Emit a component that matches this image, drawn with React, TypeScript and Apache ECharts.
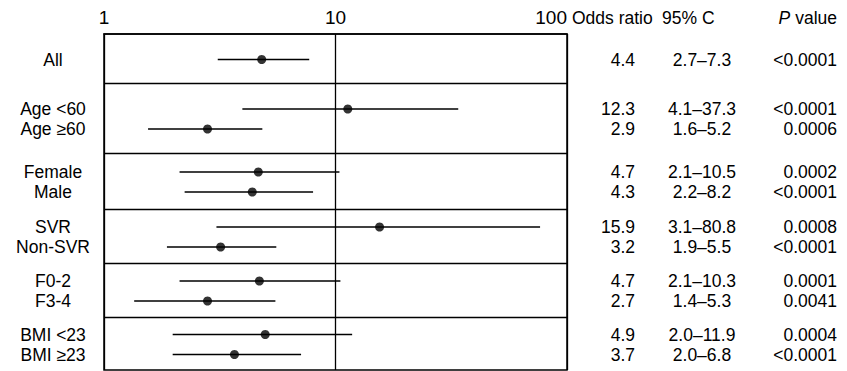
import React, { useEffect, useRef } from "react";
import * as echarts from "echarts";

// ---- data ----
const rowLabels = ["All", "Age <60", "Age ≥60", "Female", "Male", "SVR", "Non-SVR", "F0-2", "F3-4", "BMI <23", "BMI ≥23"];
const groupIndex = [0, 1, 1, 2, 2, 3, 3, 4, 4, 5, 5];
const orText = ["4.4", "12.3", "2.9", "4.7", "4.3", "15.9", "3.2", "4.7", "2.7", "4.9", "3.7"];
const ciText = ["2.7–7.3", "4.1–37.3", "1.6–5.2", "2.1–10.5", "2.2–8.2", "3.1–80.8", "1.9–5.5", "2.1–10.3", "1.4–5.3", "2.0–11.9", "2.0–6.8"];
const pText = ["<0.0001", "<0.0001", "0.0006", "0.0002", "<0.0001", "0.0008", "<0.0001", "0.0001", "0.0041", "0.0004", "<0.0001"];
// plotted estimates as drawn in the figure
const plotOR = [4.8, 11.3, 2.8, 4.64, 4.37, 15.5, 3.19, 4.69, 2.8, 4.97, 3.66];
const plotLow = [3.1, 3.96, 1.55, 2.12, 2.23, 3.06, 1.87, 2.12, 1.35, 1.98, 1.98];
const plotHigh = [7.7, 33.9, 4.83, 10.4, 8.0, 76.5, 5.55, 10.5, 5.5, 11.8, 7.1];
const xTicks = [1, 10, 100];
const headers = ["Odds ratio", "95% C", "P value"];

// ---- layout ----
const GROUP_H = [49, 70, 56, 54, 54, 53];
const ROW_PITCH = 20;
const PLOT_H = GROUP_H.reduce((a, b) => a + b, 0);
const groupTop: number[] = [];
GROUP_H.reduce((acc, h, i) => { groupTop[i] = acc; return acc + h; }, 0);
const rowY = groupIndex.map((g, i) => {
  const members = groupIndex.map((gg, j) => (gg === g ? j : -1)).filter((j) => j >= 0);
  const k = members.indexOf(i);
  return groupTop[g] + GROUP_H[g] / 2 + (k - (members.length - 1) / 2) * ROW_PITCH + 1;
});
const separators = groupTop.slice(1);

const FONT = "'Liberation Sans', Arial, Helvetica, sans-serif";
const TEXT_SIZE = 17.5;
const LABEL_X = 53;
const OR_X = 635;
const CI_X = 702;
const P_X = 837;

export default function App() {
  const ref = useRef<HTMLDivElement>(null);
  useEffect(() => {
    if (!ref.current) return;
    const chart = echarts.init(ref.current, undefined, { renderer: "svg" });
    const option: any = {
      animation: false,
      backgroundColor: "#fff",
      textStyle: { fontFamily: FONT },
      grid: {
        left: 104, top: 34, width: 463, height: PLOT_H,
        show: true, borderColor: "#000", borderWidth: 1.5, backgroundColor: "transparent",
      },
      xAxis: {
        type: "log", logBase: 10, min: xTicks[0], max: xTicks[xTicks.length - 1],
        position: "top",
        axisLine: { show: true, lineStyle: { color: "#000", width: 1.5 } },
        axisTick: { show: false },
        minorTick: { show: false },
        axisLabel: {
          color: "#000", fontSize: 19, fontFamily: FONT, margin: 7,
          alignMaxLabel: "right",
          formatter: (v: number) => (xTicks.includes(Math.round(v)) ? String(Math.round(v)) : ""),
        },
        splitLine: { show: true, lineStyle: { color: "#000", width: 1.3 } },
      },
      yAxis: {
        type: "value", inverse: true, min: 0, max: PLOT_H, show: false,
        splitLine: { show: false },
      },
      series: [
        {
          type: "custom",
          name: "ci",
          clip: false,
          data: rowY.map((y, i) => [plotLow[i], plotHigh[i], y]),
          encode: { x: [0, 1], y: 2 },
          renderItem: (params: any, api: any) => {
            const a = api.coord([api.value(0), api.value(2)]);
            const b = api.coord([api.value(1), api.value(2)]);
            return {
              type: "line",
              shape: { x1: a[0], y1: a[1], x2: b[0], y2: b[1] },
              style: { stroke: "#000", lineWidth: 1.6 },
            };
          },
          markLine: {
            silent: true, symbol: "none", animation: false,
            label: { show: false },
            lineStyle: { color: "#000", width: 1.3, type: "solid" },
            data: separators.map((y) => ({ yAxis: y })),
          },
        },
        {
          type: "scatter",
          name: "or",
          symbol: "circle",
          symbolSize: 9,
          itemStyle: { color: "#000" },
          data: rowY.map((y, i) => [plotOR[i], y]),
        },
        {
          type: "custom",
          name: "text",
          clip: false,
          data: rowY.map((y) => [1, y]),
          encode: { x: 0, y: 1 },
          renderItem: (params: any, api: any) => {
            const i = params.dataIndex;
            const p = api.coord([1, api.value(1)]);
            const base = { fill: "#000", fontSize: TEXT_SIZE, fontFamily: FONT, verticalAlign: "middle" };
            return {
              type: "group",
              children: [
                { type: "text", style: { ...base, text: rowLabels[i], x: LABEL_X, y: p[1], align: "center" } },
                { type: "text", style: { ...base, text: orText[i], x: OR_X, y: p[1], align: "right" } },
                { type: "text", style: { ...base, text: ciText[i], x: CI_X, y: p[1], align: "center" } },
                { type: "text", style: { ...base, text: pText[i], x: P_X, y: p[1], align: "right" } },
              ],
            };
          },
        },
      ],
      graphic: [
        { type: "text", style: { text: headers[0], x: 572, y: 18, fill: "#000", fontSize: 17.5, fontFamily: FONT, verticalAlign: "middle", align: "left" } },
        { type: "text", style: { text: headers[1], x: 662, y: 18, fill: "#000", fontSize: 17.5, fontFamily: FONT, verticalAlign: "middle", align: "left" } },
        {
          type: "text",
          style: {
            text: "{i|P}" + headers[2].slice(1), x: P_X, y: 18, fill: "#000", fontSize: 17.5, fontFamily: FONT,
            verticalAlign: "middle", align: "right",
            rich: { i: { fontStyle: "italic", fontSize: 17.5, fontFamily: FONT, fill: "#000" } },
          },
        },
      ],
    };
    chart.setOption(option);
    return () => chart.dispose();
  }, []);
  return (
    <div
      ref={ref}
      style={{ position: "fixed", left: 0, top: 0, width: 847, height: 371, background: "#fff" }}
    />
  );
}
